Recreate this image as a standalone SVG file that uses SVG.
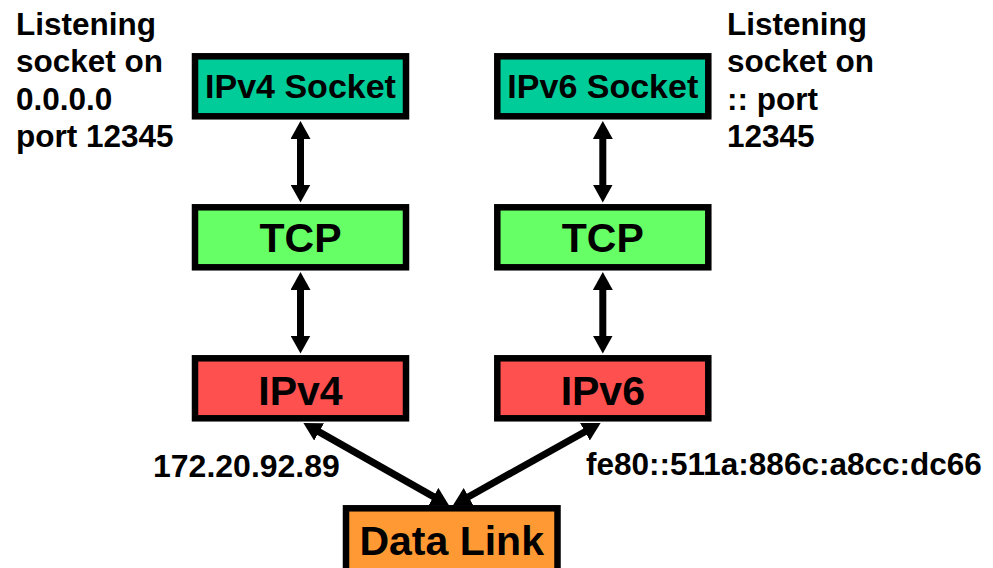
<svg xmlns="http://www.w3.org/2000/svg" width="993" height="568" viewBox="0 0 993 568">
  <style>
    .box { stroke: #000; stroke-width: 6.5; }
    .sock { fill: #00CC99; }
    .tcp { fill: #66FF66; }
    .ip { fill: #FF5050; }
    .link { fill: #FF9933; }
    text { font-family: "Liberation Sans", Arial, sans-serif; font-weight: bold; fill: #000; }
    .lbl { text-anchor: middle; font-size: 41px; }
    .slbl { text-anchor: middle; font-size: 34px; }
    .note { font-size: 31.5px; }
    .conn { stroke: #000; stroke-width: 7; fill: none; marker-start: url(#head); marker-end: url(#head); }
  </style>
  <defs>
    <marker id="head" markerUnits="userSpaceOnUse" viewBox="0 0 18 20" markerWidth="18" markerHeight="20" refX="1" refY="10" orient="auto-start-reverse">
      <path d="M0,0 L18,10 L0,20 Z" fill="#000"/>
    </marker>
  </defs>

  <rect width="993" height="568" fill="#fff"/>

  <!-- IPv4 stack -->
  <g id="ipv4-socket">
    <rect class="box sock" x="195" y="56.3" width="211" height="60"/>
    <text class="slbl" x="300.5" y="98.3">IPv4 Socket</text>
  </g>
  <g id="tcp-v4">
    <rect class="box tcp" x="195" y="207.3" width="211" height="60"/>
    <text class="lbl" x="300.5" y="252.3">TCP</text>
  </g>
  <g id="ipv4">
    <rect class="box ip" x="195" y="358.3" width="211" height="60"/>
    <text class="lbl" x="300.5" y="405">IPv4</text>
  </g>

  <!-- IPv6 stack -->
  <g id="ipv6-socket">
    <rect class="box sock" x="497.3" y="56.3" width="211" height="60"/>
    <text class="slbl" x="602.8" y="98.3">IPv6 Socket</text>
  </g>
  <g id="tcp-v6">
    <rect class="box tcp" x="497.3" y="207.3" width="211" height="60"/>
    <text class="lbl" x="602.8" y="252.3">TCP</text>
  </g>
  <g id="ipv6">
    <rect class="box ip" x="497.3" y="358.3" width="211" height="60"/>
    <text class="lbl" x="602.8" y="405">IPv6</text>
  </g>

  <!-- shared link layer -->
  <g id="data-link">
    <rect class="box link" x="346" y="508.3" width="211.5" height="70"/>
    <text class="lbl" x="451.7" y="555">Data Link</text>
  </g>

  <!-- connectors: lines run between arrowhead bases -->
  <g id="connectors">
    <line class="conn" x1="300.5" y1="138" x2="300.5" y2="185.5"/>
    <line class="conn" x1="300.5" y1="289" x2="300.5" y2="336.5"/>
    <line class="conn" x1="602.8" y1="138" x2="602.8" y2="185.5"/>
    <line class="conn" x1="602.8" y1="289" x2="602.8" y2="336.5"/>
    <line class="conn" x1="318.2" y1="431.4" x2="434.3" y2="497.1"/>
    <line class="conn" x1="585.8" y1="431.3" x2="467.7" y2="497.2"/>
  </g>

  <!-- annotations -->
  <g id="note-v4">
    <text class="note" x="16" y="35">Listening</text>
    <text class="note" x="16" y="72">socket on</text>
    <text class="note" x="16" y="109.5">0.0.0.0</text>
    <text class="note" x="16" y="147">port 12345</text>
  </g>
  <g id="note-v6">
    <text class="note" x="727" y="35">Listening</text>
    <text class="note" x="727" y="72">socket on</text>
    <text class="note" x="727" y="109.5">:: port</text>
    <text class="note" x="727" y="147">12345</text>
  </g>
  <g id="addr-v4">
    <text x="153" y="476.5" font-size="32">172.20.92.89</text>
  </g>
  <g id="addr-v6">
    <text x="586" y="475" font-size="31.5">fe80::511a:886c:a8cc:dc66</text>
  </g>
</svg>
